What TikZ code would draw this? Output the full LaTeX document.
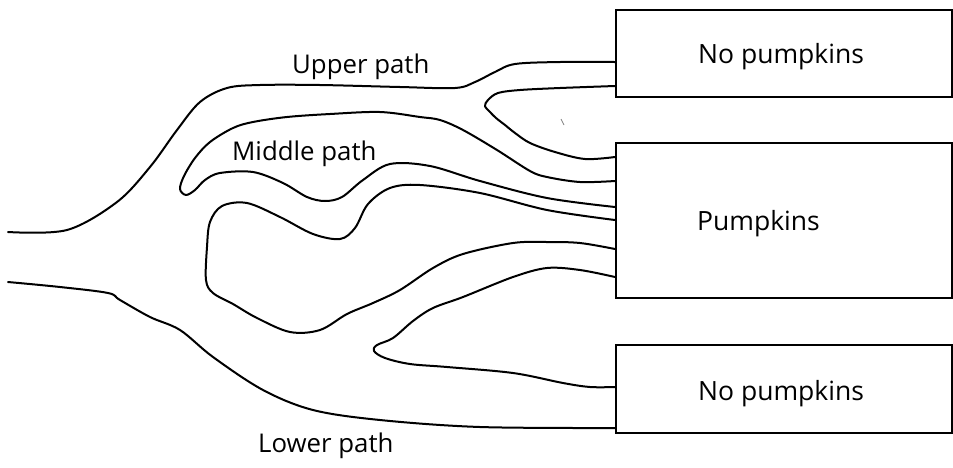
\documentclass[tikz,border=0pt]{standalone}
\usepackage{fontspec}
\setmainfont{Open Sans}
\begin{document}
\begin{tikzpicture}[x=1pt,y=-1pt,
  wall/.style={line width=2pt, line join=round, line cap=round},
  box/.style={draw, line width=2pt, minimum width=336pt, inner sep=0pt},
  lbl/.style={inner sep=0pt, font=\fontsize{25.8}{30}\selectfont},
  boxlbl/.style={inner sep=0pt, font=\fontsize{26.5}{31}\selectfont}]
\useasboundingbox (0,0) rectangle (953,467);

% outcome boxes
\node[box, minimum height=87pt]  (b1) at (784,53.5)  {};
\node[box, minimum height=155pt] (b2) at (784,220.5) {};
\node[box, minimum height=88pt]  (b3) at (784,389)   {};
% heavier right-hand edges
\draw[line width=3pt] (b1.north east) -- (b1.south east);
\draw[line width=3pt] (b2.north east) -- (b2.south east);
\draw[line width=3pt] (b3.north east) -- (b3.south east);

\node[boxlbl, anchor=base west] (t1) at (698,63)  {No pumpkins};
\node[boxlbl, anchor=base west] (t2) at (697,230) {Pumpkins};
\node[boxlbl, anchor=base west] (t3) at (698,400) {No pumpkins};

% path labels
\node[lbl, anchor=base west] (lu) at (292,73)  {Upper path};
\node[lbl, anchor=base west] (lm) at (232,160) {Middle path};
\node[lbl, anchor=base west] (ll) at (258,452) {Lower path};

% upper outer wall
\draw[wall] plot[smooth, tension=0.55] coordinates {
  (8,232) (67,230) (117,202) (150,167) (177,130) (200,102) (227,88)
  (260,85) (320,85) (400,87) (455,88) (475,82) (495,72) (515,64)
  (560,62) (b1.west |- 0,62)};

% island splitting the upper path
\draw[wall] plot[smooth, tension=0.55] coordinates {
  (b1.west |- 0,86) (560,88) (520,90) (498,93) (488,100) (485,106)
  (490,112) (496,118) (505,125) (515,133) (530,143) (555,152)
  (585,159) (b2.west |- 0,157)};
\draw[line width=0.8pt, gray] (561,119) -- (564,125);

% middle path tongue
\draw[wall] plot[smooth, tension=0.55] coordinates {
  (b2.west |- 0,181) (580,182) (547,177) (530,171) (497,150) (463,130)
  (440,120) (420,117) (380,112) (330,114) (287,117) (253,122) (233,128)
  (210,142) (195,158) (184,176) (180,189) (186,195) (195,190) (205,180)
  (220,173) (253,172) (283,183) (307,197) (325,201) (342,197) (363,180)
  (390,164) (430,166) (480,181) (547,198) (b2.west |- 0,207)};

% large central island
\draw[wall] plot[smooth, tension=0.55] coordinates {
  (b2.west |- 0,220) (547,210) (480,193) (420,185) (390,188) (368,204)
  (355,228) (340,239) (313,234) (280,217) (247,203) (222,206) (210,222)
  (207,247) (206,280) (213,293) (233,304) (257,318) (290,332) (320,330)
  (347,314) (373,303) (400,290) (433,268) (463,254) (513,243) (547,242)
  (580,243) (b2.west |- 0,249)};

% lower fork
\draw[wall] plot[smooth, tension=0.55] coordinates {
  (b2.west |- 0,277) (580,270) (547,268) (513,277) (463,297) (433,308)
  (413,321) (393,338) (377,345) (374,351) (385,358) (410,364) (447,367)
  (513,373) (563,383) (590,387) (b3.west |- 0,387)};

% lower outer wall
\draw[wall] plot[smooth, tension=0.55] coordinates {
  (8,282) (60,287) (108,293) (120,300) (150,317) (180,330) (213,357)
  (263,390) (313,410) (380,420) (480,427) (b3.west |- 0,428)};
\end{tikzpicture}
\end{document}
